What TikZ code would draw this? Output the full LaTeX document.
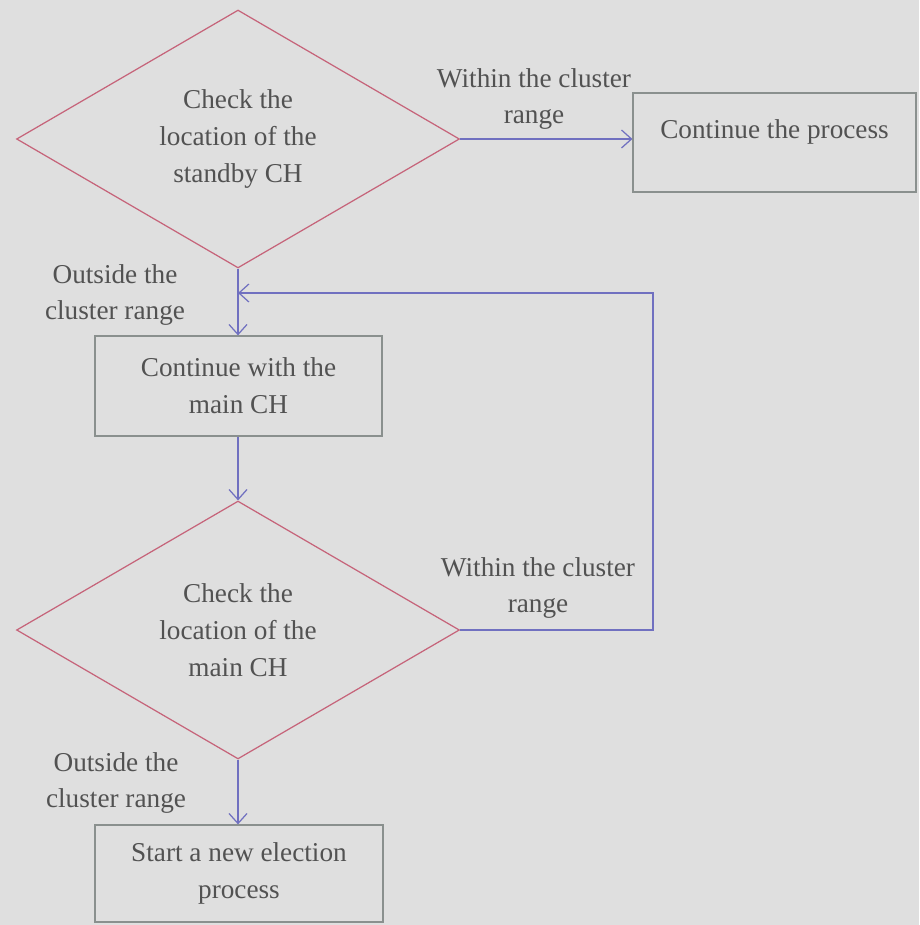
\documentclass[tikz,border=0pt]{standalone}
\usepackage{fontspec}
\setmainfont{Liberation Serif}
\usetikzlibrary{positioning,shapes.geometric,arrows.meta}
\definecolor{bgcol}{RGB}{223,223,223}
\definecolor{dmdcol}{RGB}{198,100,122}
\definecolor{arrcol}{RGB}{112,112,192}
\definecolor{boxcol}{RGB}{138,144,142}
\definecolor{txtcol}{RGB}{82,82,82}
\tikzset{
  decision/.style={diamond, draw=dmdcol, line width=0.7pt, inner sep=0pt,
    minimum width=8.86cm, minimum height=5.16cm, align=center, text=txtcol},
  process/.style={rectangle, draw=boxcol, line width=0.7pt,
    minimum width=5.74cm, minimum height=2cm, align=center, text=txtcol},
  arr/.style={draw=arrcol, line width=0.7pt, -{Straight Barb[length=2mm,width=3.6mm]}},
  lbl/.style={align=center, text=txtcol},
}

\begin{document}
\begin{tikzpicture}[x=0.02cm,y=-0.02cm,font=\fontsize{15.5}{21}\selectfont]
\fill[bgcol] (0,0) rectangle (919,925);
\useasboundingbox (0,0) rectangle (919,925);
% decisions and steps
\node[decision] (chkstandby) at (238,139) {Check the\\location of the\\standby CH};
\node[process, minimum width=5.66cm, minimum height=1.98cm, text height=0.4cm, text depth=0.54cm] (contproc) at (774.5,142.5) {Continue the process};
\node[process] (contmain) at (238.5,386) {Continue with the\\main CH};
\node[decision] (chkmain) at (238,630) {Check the\\location of the\\main CH};
\node[process, minimum width=5.76cm, minimum height=1.94cm] (newelect) at (239,873.5) {Start a new election\\process};
% labels
\node[lbl] (winone) at (534,99) {Within the cluster\\range};
\node[lbl] (outone) at (115,295) {Outside the\\cluster range};
\node[lbl] (wintwo) at (538,588) {Within the cluster\\range};
\node[lbl] (outtwo) at (116,783) {Outside the\\cluster range};
% arrows
\coordinate (join) at (238,293);
\coordinate (back) at (653,293);
\draw[arr] (chkstandby.east) -- (chkstandby.east -| contproc.west);
\draw[arr] (chkstandby.south) -- (chkstandby.south |- contmain.north);
\draw[arr] (chkmain.east) -| (back) -- (join);
\draw[arr] (chkmain.north |- contmain.south) -- (chkmain.north);
\draw[arr] (chkmain.south) -- (chkmain.south |- newelect.north);
\end{tikzpicture}
\end{document}
